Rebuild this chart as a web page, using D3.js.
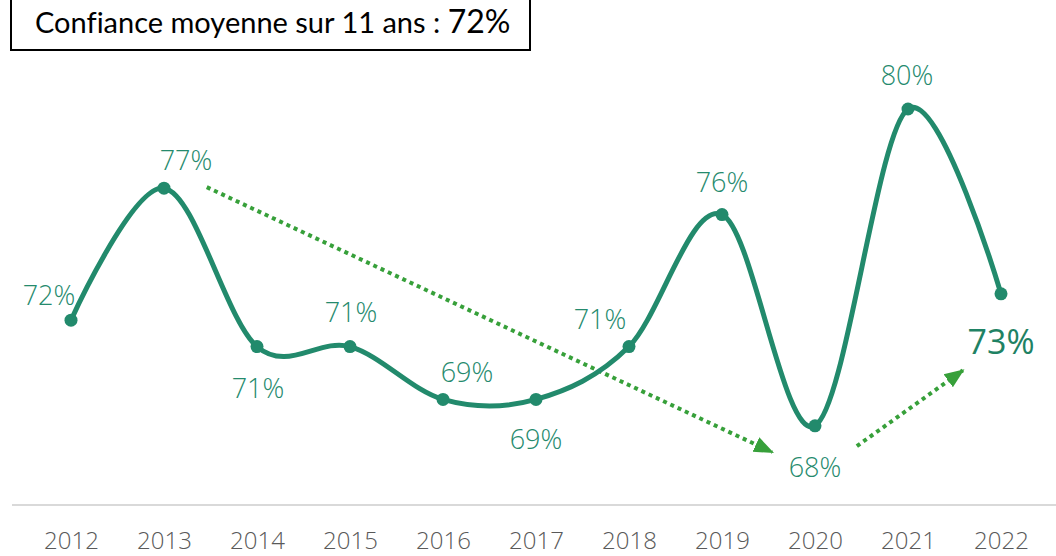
<!DOCTYPE html>
<html>
<head>
<meta charset="utf-8">
<script src="https://cdn.jsdelivr.net/npm/d3@7"></script>
<style>
  body { margin: 0; background: #fff; }
  svg { display: block; }
</style>
</head>
<body>
<div id="chart"></div>
<script>
/* DATA */
const years = [2012, 2013, 2014, 2015, 2016, 2017, 2018, 2019, 2020, 2021, 2022];
const values = [72, 77, 71, 71, 69, 69, 71, 76, 68, 80, 73];
const averageLabel = "72%";
// trend arrows, in [year, value] coordinates
const trendArrows = [
  [[2013.46, 77.04], [2019.54, 67.0]],
  [[2020.45, 67.23], [2021.59, 70.1]]
];

/* LAYOUT */
const width = 1056,
  height = 556;
// label offsets from each point (dx, dy to baseline)
const labelOffsets = [
  [-22, -15], [22, -18], [1, 51], [1, -25], [24, -17], [0, 50],
  [-29, -18], [0, -23], [0, 51], [-1, -24], [0, 60]
];

const svg = d3.select("#chart")
  .append("svg")
    .attr("width", width)
    .attr("height", height);

const xScale = d3.scalePoint()
  .domain(years)
  .range([71, 1001]);

const yScale = d3.scaleLinear()
  .domain([65, 80])
  .range([505, 109]);

// axis baseline
svg.append("line")
  .attr("x1", 12)
  .attr("x2", width)
  .attr("y1", yScale(65))
  .attr("y2", yScale(65))
  .attr("stroke", "#d9d9d9")
  .attr("stroke-width", 2);

const xAxis = d3.axisBottom(xScale).tickSize(0).tickPadding(0);
const gx = svg.append("g")
  .attr("transform", `translate(0,${yScale(65) + 27})`)
  .call(xAxis);
gx.select(".domain").remove();
gx.selectAll("text")
  .attr("dy", "0.71em")
  .attr("fill", "#595959")
  .style("font-family", "'Open Sans', sans-serif")
  .style("font-weight", 300)
  .style("font-size", "24px");

// arrowhead
svg.append("defs")
  .append("marker")
    .attr("id", "head")
    .attr("markerUnits", "userSpaceOnUse")
    .attr("viewBox", "0 0 20 20")
    .attr("refX", 18)
    .attr("refY", 10)
    .attr("markerWidth", 20)
    .attr("markerHeight", 20)
    .attr("orient", "auto")
  .append("path")
    .attr("d", "M0,2 L20,10 L0,18 Z")
    .attr("fill", "#37a03a");

svg.selectAll(".trend")
  .data(trendArrows)
  .join("line")
    .attr("class", "trend")
    .attr("x1", d => xScale(2012) + (d[0][0] - 2012) * xScale.step())
    .attr("y1", d => yScale(d[0][1]))
    .attr("x2", d => xScale(2012) + (d[1][0] - 2012) * xScale.step())
    .attr("y2", d => yScale(d[1][1]))
    .attr("stroke", "#37a03a")
    .attr("stroke-width", 4)
    .attr("stroke-dasharray", "4 4")
    .attr("marker-end", "url(#head)");

const data = years.map((y, i) => ({ year: y, value: values[i], off: labelOffsets[i] }));

const line = d3.line()
  .x(d => xScale(d.year))
  .y(d => yScale(d.value))
  .curve(d3.curveCardinal.tension(0));

svg.append("path")
  .datum(data)
  .attr("d", line)
  .attr("fill", "none")
  .attr("stroke", "#228a6c")
  .attr("stroke-width", 5);

svg.selectAll(".dot")
  .data(data)
  .join("circle")
    .attr("class", "dot")
    .attr("cx", d => xScale(d.year))
    .attr("cy", d => yScale(d.value))
    .attr("r", 6.5)
    .attr("fill", "#228a6c");

const last = data.length - 1;
svg.selectAll(".lbl")
  .data(data)
  .join("text")
    .attr("class", "lbl")
    .attr("x", d => xScale(d.year) + d.off[0])
    .attr("y", d => yScale(d.value) + d.off[1])
    .attr("text-anchor", "middle")
    .attr("fill", (d, i) => i === last ? "#1f8264" : "#258a6d")
    .style("font-family", "'Open Sans', sans-serif")
    .style("font-size", (d, i) => i === last ? "34px" : "27px")
    .style("font-weight", (d, i) => i === last ? 400 : 300)
    .text(d => d.value + "%");

// title box
svg.append("rect")
  .attr("x", 11)
  .attr("y", -2)
  .attr("width", 519)
  .attr("height", 52)
  .attr("fill", "#fff")
  .attr("stroke", "#000")
  .attr("stroke-width", 2);

const title = svg.append("text")
  .attr("x", 35)
  .attr("y", 33)
  .attr("fill", "#000")
  .style("font-family", "Lato, sans-serif")
  .style("font-variant-ligatures", "none");
title.append("tspan")
  .style("font-size", "29px")
  .text("Confiance moyenne sur 11 ans : ");
title.append("tspan")
  .style("font-size", "32px")
  .text(averageLabel);
</script>
</body>
</html>
